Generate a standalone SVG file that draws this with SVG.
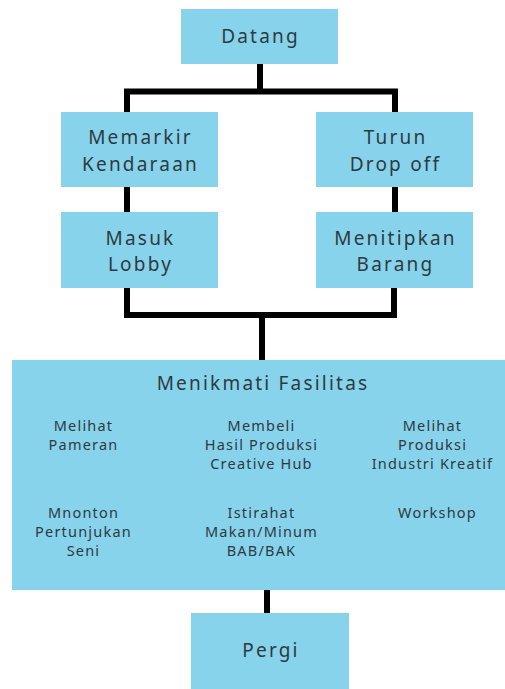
<svg xmlns="http://www.w3.org/2000/svg" width="505" height="689" viewBox="0 0 505 689">
<style>
.box{fill:#87d3ec;}
.t{font-family:"Noto Sans",sans-serif;fill:#2e3a40;text-anchor:middle;font-size:19px;letter-spacing:2.2px;}
.s{font-family:"Noto Sans",sans-serif;fill:#2e3a40;text-anchor:middle;font-size:14.5px;letter-spacing:1.2px;}
.c{fill:none;stroke:#000;stroke-width:6;stroke-linecap:butt;stroke-linejoin:miter;}
</style>
<rect width="505" height="689" fill="#fff"/>
<g id="connectors">
<path class="c" d="M260 64 V91.5"/>
<path class="c" d="M127 112 V91.5 H395 V112"/>
<path class="c" d="M127 187 V212"/>
<path class="c" d="M395 187 V212"/>
<path class="c" d="M127 288 V315 H394 V288"/>
<path class="c" d="M262 315 V360"/>
<path class="c" d="M267 590 V613"/>
</g>
<g id="datang"><rect class="box" x="181" y="9" width="157" height="55"/><text class="t" x="260.5" y="43">Datang</text></g>
<g id="memarkir"><rect class="box" x="61" y="112" width="157" height="75"/><text class="t" x="140.5" y="144">Memarkir</text><text class="t" x="140.5" y="171">Kendaraan</text></g>
<g id="turun"><rect class="box" x="316" y="112" width="157" height="75"/><text class="t" x="395.5" y="144">Turun</text><text class="t" x="395.5" y="171">Drop off</text></g>
<g id="masuk"><rect class="box" x="61" y="212" width="157" height="76"/><text class="t" x="140.5" y="245">Masuk</text><text class="t" x="140.5" y="271">Lobby</text></g>
<g id="menitipkan"><rect class="box" x="316" y="212" width="157" height="76"/><text class="t" x="395.5" y="245">Menitipkan</text><text class="t" x="395.5" y="271">Barang</text></g>
<g id="fasilitas"><rect class="box" x="12" y="360" width="493" height="230"/>
<text class="t" x="263" y="390">Menikmati Fasilitas</text>
<text class="s" x="83.5" y="431">Melihat</text><text class="s" x="83.5" y="450">Pameran</text>
<text class="s" x="261.5" y="431">Membeli</text><text class="s" x="261.5" y="450">Hasil Produksi</text><text class="s" x="261.5" y="469">Creative Hub</text>
<text class="s" x="432.5" y="431">Melihat</text><text class="s" x="432.5" y="450">Produksi</text><text class="s" x="432.5" y="469">Industri Kreatif</text>
<text class="s" x="83.5" y="518">Mnonton</text><text class="s" x="83.5" y="537">Pertunjukan</text><text class="s" x="83.5" y="556">Seni</text>
<text class="s" x="261.5" y="518">Istirahat</text><text class="s" x="261.5" y="537">Makan/Minum</text><text class="s" x="261.5" y="556">BAB/BAK</text>
<text class="s" x="437.5" y="518">Workshop</text>
</g>
<g id="pergi"><rect class="box" x="191" y="613" width="158" height="76"/><text class="t" x="271" y="657">Pergi</text></g>
</svg>
